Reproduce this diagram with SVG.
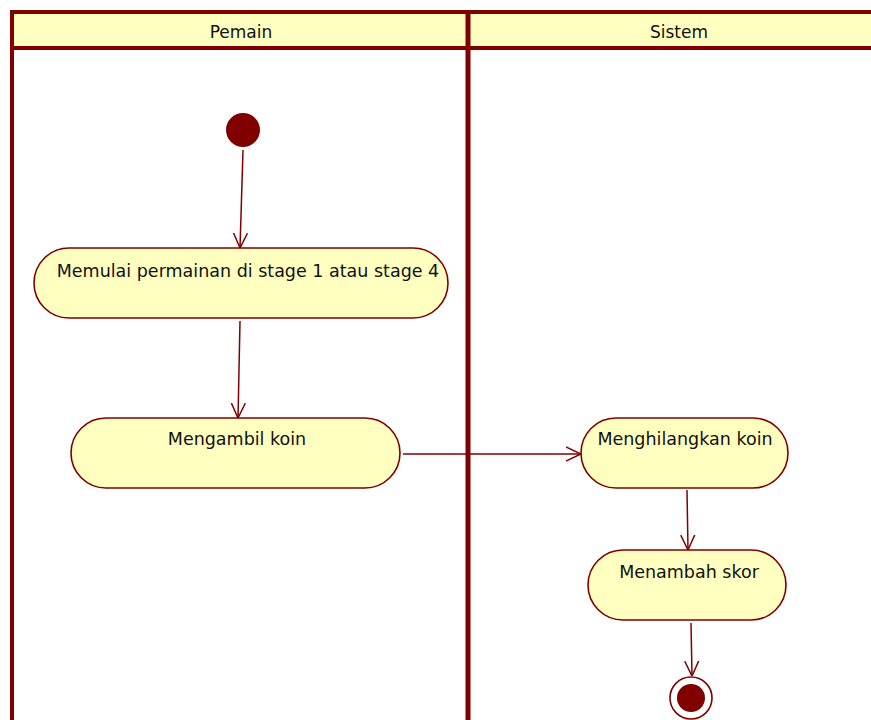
<svg xmlns="http://www.w3.org/2000/svg" width="871" height="720" viewBox="0 0 871 720">
  <style>
    .lane { fill: none; stroke: #800000; stroke-width: 4; }
    .head { fill: #FFFFC0; stroke: #800000; stroke-width: 4; }
    .act { fill: #FFFFC0; stroke: #800000; stroke-width: 1.6; }
    .lbl { font-family: "DejaVu Sans", Verdana, sans-serif; font-size: 17.5px; fill: #111; text-anchor: middle; }
    .hdr { font-family: "DejaVu Sans", Verdana, sans-serif; font-size: 17px; fill: #111; text-anchor: middle; }
    .flow { fill: none; stroke: #800000; stroke-width: 1.5; marker-end: url(#open); }
  </style>
  <defs>
    <marker id="open" viewBox="0 0 15 16" refX="15" refY="8" markerWidth="15" markerHeight="16" markerUnits="userSpaceOnUse" orient="auto">
      <path d="M0,1 L15,8 L0,15" fill="none" stroke="#800000" stroke-width="1.5"/>
    </marker>
  </defs>
  <rect width="871" height="720" fill="#ffffff"/>

  <!-- swimlanes -->
  <g id="lanes">
    <rect class="head" x="12" y="12" width="880" height="36"/>
    <line class="lane" x1="12" y1="12" x2="12" y2="720"/>
    <line class="lane" x1="468" y1="12" x2="468" y2="720" style="stroke-width:5"/>
    <text class="hdr" x="241" y="38">Pemain</text>
    <text class="hdr" x="679" y="38">Sistem</text>
  </g>

  <!-- nodes -->
  <g id="start">
    <circle cx="243" cy="130" r="17" fill="#800000"/>
  </g>
  <g id="mulai">
    <rect class="act" x="34" y="248" width="414" height="70" rx="35" ry="35"/>
    <text class="lbl" x="248" y="277">Memulai permainan di stage 1 atau stage 4</text>
  </g>
  <g id="ambil">
    <rect class="act" x="71" y="418" width="329" height="70" rx="35" ry="35"/>
    <text class="lbl" x="237" y="445">Mengambil koin</text>
  </g>
  <g id="hilang">
    <rect class="act" x="581" y="418" width="207" height="70" rx="35" ry="35"/>
    <text class="lbl" x="685" y="445">Menghilangkan koin</text>
  </g>
  <g id="skor">
    <rect class="act" x="588" y="550" width="198" height="70" rx="35" ry="35"/>
    <text class="lbl" x="689" y="578">Menambah skor</text>
  </g>
  <g id="end">
    <circle cx="691" cy="698" r="21" fill="#ffffff" stroke="#800000" stroke-width="1.6"/>
    <circle cx="691" cy="698" r="14" fill="#800000"/>
  </g>

  <!-- connectors -->
  <g id="connectors">
    <path class="flow" d="M243,150 L240,248"/>
    <path class="flow" d="M240,321 L238,418"/>
    <path class="flow" d="M403,454 L581,454"/>
    <path class="flow" d="M687,490 L688,550"/>
    <path class="flow" d="M691,623 L692,676"/>
  </g>
</svg>
